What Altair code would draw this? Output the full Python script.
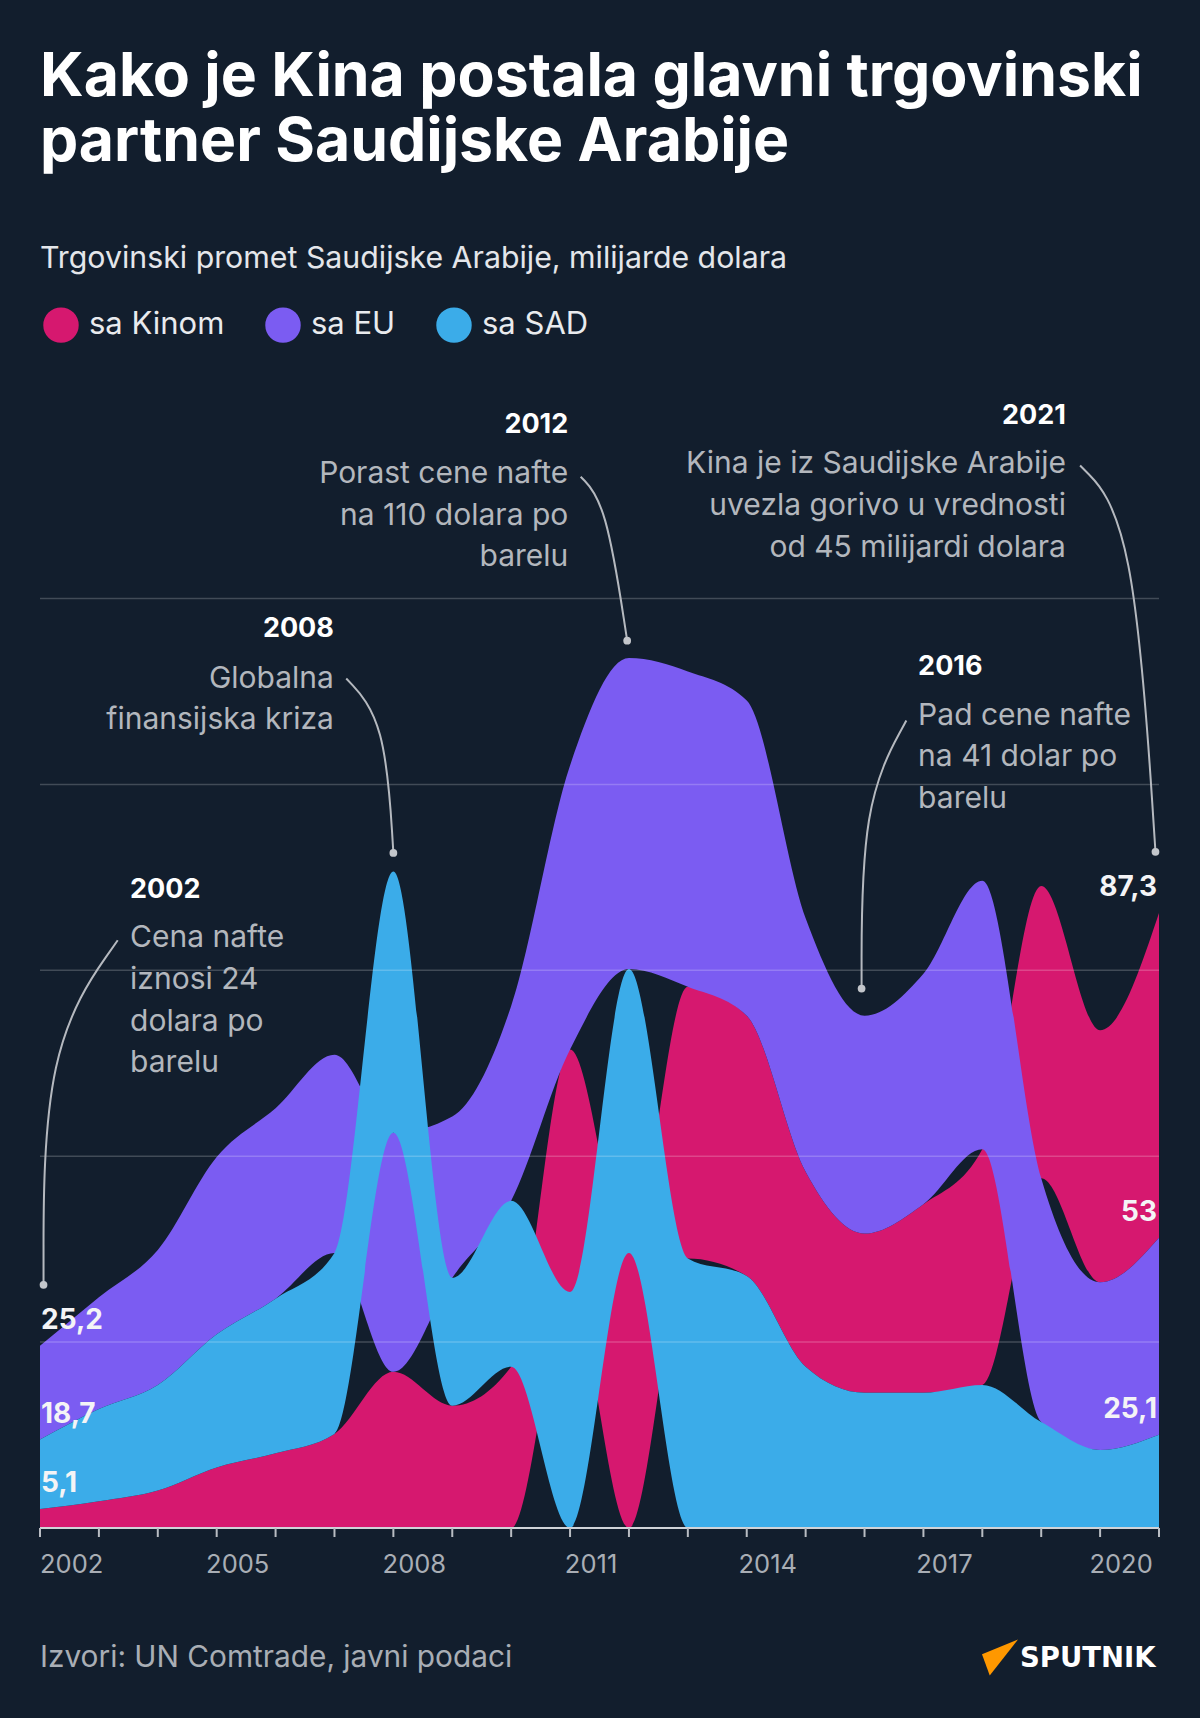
import altair as alt
import pandas as pd

# ---------------- data ----------------
years = list(range(2002, 2022))
china = [5.1, 7.2, 10.1, 16.3, 20.1, 25.3, 42.0, 32.9, 43.4, 65.2,
         74.0, 73.1, 70.0, 52.4, 42.8, 50.7, 63.4, 78.6, 67.8, 87.3]
eu = [25.2, 30.1, 36.3, 47.7, 51.2, 53.3, 64.3, 43.4, 52.4, 76.4,
      83.6, 84.8, 84.8, 68.2, 58.6, 62.0, 72.2, 65.6, 45.1, 53.0]
usa = [18.7, 24.8, 28.4, 35.8, 41.6, 48.7, 70.3, 34.4, 44.6, 63.5,
       76.4, 72.5, 67.8, 43.4, 36.4, 36.4, 38.5, 28.5, 21.0, 25.1]
series = ["sa Kinom", "sa EU", "sa SAD"]
colors = ["#d6186f", "#7b5cf2", "#3bace9"]
grid_values = [50, 100, 150, 200, 250]
axis_label_years = [2002, 2005, 2008, 2011, 2014, 2017, 2020]

title_lines = ["Kako je Kina postala glavni trgovinski", "partner Saudijske Arabije"]
subtitle = "Trgovinski promet Saudijske Arabije, milijarde dolara"
source = "Izvori: UN Comtrade, javni podaci"
brand = "SPUTNIK"

# annotations (anchored in data units: year, value)
ann_heads = ["2002", "2008", "2012", "2016", "2021"]
ann_bodies = ["Cena nafte\niznosi 24\ndolara po\nbarelu",
              "Globalna\nfinansijska kriza",
              "Porast cene nafte\nna 110 dolara po\nbarelu",
              "Pad cene nafte\nna 41 dolar po\nbarelu",
              "Kina je iz Saudijske Arabije\nuvezla gorivo u vrednosti\nod 45 milijardi dolara"]
ann_align = ["left", "right", "right", "left", "right"]
ann_x = [2003.53, 2006.99, 2010.97, 2016.91, 2019.42]
ann_head_v = [171.7, 241.8, 296.8, 231.6, 299.1]
ann_body_v = [156.2, 226.0, 281.1, 216.1, 283.7]
# leader lines: start, bend, dot
lead_x = [[2003.32, 2002.06, 2002.06],
          [2007.20, 2007.86, 2008.00],
          [2011.18, 2011.61, 2011.97],
          [2016.71, 2015.95, 2015.95],
          [2019.66, 2020.57, 2020.94]]
lead_v = [[158.1, 129.7, 65.4],
          [228.5, 217.4, 181.6],
          [282.8, 275.9, 238.7],
          [217.2, 195.1, 145.1],
          [285.8, 271.3, 181.9]]

# ---------------- tables ----------------
rows = []
for s, vals in zip(series, [china, eu, usa]):
    for y, v in zip(years, vals):
        rows.append({"year": y, "series": s, "value": v})
df = pd.DataFrame(rows)

ann_df = pd.DataFrame({"x": ann_x, "hv": ann_head_v, "bv": ann_body_v,
                       "head": ann_heads, "body": ann_bodies, "align": ann_align})
lead_rows = []
for i, (xs_, vs_) in enumerate(zip(lead_x, lead_v)):
    for j, (a, b) in enumerate(zip(xs_, vs_)):
        lead_rows.append({"id": i, "pt": j, "x": a, "v": b})
lead_df = pd.DataFrame(lead_rows)

FONT = "Inter"
W, H = 1119, 1145
xs = alt.Scale(domain=[2002, 2021], nice=False, zero=False)
ys = alt.Scale(domain=[0, 308], nice=False, zero=False)
color_scale = alt.Scale(domain=series, range=colors)

legend = alt.Legend(orient="none", legendX=3, legendY=-76, direction="horizontal",
                    title=None, symbolType="circle", symbolSize=1257,
                    symbolStrokeWidth=0, symbolOpacity=1, labelFont=FONT,
                    labelFontSize=31, labelColor="#e9ebee", labelOffset=10,
                    columnPadding=40, padding=0, labelLimit=400)

X = lambda f: alt.X(f, scale=xs, axis=None)
Y = lambda f: alt.Y(f, scale=ys, axis=None)

base = alt.Chart(df).transform_stack(
    stack="value", groupby=["year"], as_=["y0", "y1"],
    sort=[alt.SortField(field="value", order="ascending")])

layers = []
for s in series:
    layers.append(
        base.transform_filter(alt.datum.series == s)
        .mark_area(interpolate="monotone", opacity=1)
        .encode(x=X("year:Q"), y=Y("y1:Q"), y2="y0:Q",
                color=alt.Color("series:N", scale=color_scale, legend=legend)))

# gridlines
layers.append(
    alt.Chart(pd.DataFrame({"g": grid_values}))
    .mark_rule(color="#ffffff", opacity=0.2, strokeWidth=1.5)
    .encode(y=Y("g:Q")))

# x axis: baseline, ticks, labels
layers.append(
    alt.Chart(pd.DataFrame({"v": [0]}))
    .mark_rule(color="#d0d3d8", strokeWidth=2)
    .encode(y=Y("v:Q")))
layers.append(
    alt.Chart(pd.DataFrame({"year": years}))
    .mark_rule(color="#b9bdc3", strokeWidth=2)
    .encode(x=X("year:Q"), y=alt.value(H), y2=alt.value(H + 9)))
ax_lab = alt.Chart(pd.DataFrame({"year": axis_label_years}))
for cond, al, dx in [("datum.year === 2002", "left", 0), ("datum.year !== 2002", "center", 21)]:
    layers.append(
        ax_lab.transform_filter(cond)
        .mark_text(align=al, baseline="middle", dx=dx, font=FONT, fontSize=25.5,
                   color="#a9aeb5")
        .encode(x=X("year:Q"), y=alt.value(H + 37),
                text=alt.Text("year:Q", format="d")))

# value labels at the ends
lab = base.transform_calculate(label="replace(format(datum.value, '.1~f'), '.', ',')")
for yr, al, dx in [(2002, "left", 1), (2021, "right", -2)]:
    layers.append(
        lab.transform_filter(alt.datum.year == yr)
        .mark_text(align=al, baseline="middle", dx=dx, dy=-25, font=FONT,
                   fontWeight="bold", fontSize=28, color="#f4f4f6")
        .encode(x=X("year:Q"), y=Y("y1:Q"), text="label:N"))

# leader lines and dots
layers.append(
    alt.Chart(lead_df).mark_line(interpolate="basis", color="#b5b9bf", strokeWidth=2)
    .encode(x=X("x:Q"), y=Y("v:Q"), detail="id:N", order="pt:Q"))
layers.append(
    alt.Chart(lead_df).transform_filter(alt.datum.pt == 2)
    .mark_circle(size=60, color="#c3c6cb", opacity=1)
    .encode(x=X("x:Q"), y=Y("v:Q")))

# annotation texts
for al in ["left", "right"]:
    sub = alt.Chart(ann_df).transform_filter(alt.datum.align == al)
    layers.append(
        sub.mark_text(align=al, baseline="middle", font=FONT, fontWeight="bold",
                      fontSize=27, color="#ffffff")
        .encode(x=X("x:Q"), y=Y("hv:Q"), text="head:N"))
    layers.append(
        sub.mark_text(align=al, baseline="alphabetic", lineBreak="\n", lineHeight=41.6,
                      font=FONT, fontSize=30, color="#b3b7bd")
        .encode(x=X("x:Q"), y=Y("bv:Q"), text="body:N"))

# title, subtitle, source, brand
layers.append(
    alt.Chart(pd.DataFrame({"t": ["\n".join(title_lines)]}))
    .mark_text(align="left", baseline="alphabetic", lineBreak="\n", lineHeight=65,
               font=FONT, fontWeight="bold", fontSize=60.7, color="#ffffff")
    .encode(x=alt.value(0), y=alt.value(-286.6), text="t:N"))
layers.append(
    alt.Chart(pd.DataFrame({"t": [subtitle]}))
    .mark_text(align="left", baseline="middle", font=FONT, fontSize=30.3, color="#e4e6ea")
    .encode(x=alt.value(0), y=alt.value(-124.4), text="t:N"))
layers.append(
    alt.Chart(pd.DataFrame({"t": [source]}))
    .mark_text(align="left", baseline="middle", font=FONT, fontSize=29.8, color="#a9aeb5")
    .encode(x=alt.value(0), y=alt.value(1275), text="t:N"))
layers.append(
    alt.Chart(pd.DataFrame({"t": [brand]}))
    .mark_text(align="left", baseline="middle", font="DejaVu Sans", fontWeight="bold",
               fontSize=27.5, color="#ffffff")
    .encode(x=alt.value(980), y=alt.value(1276), text="t:N"))
layers.append(
    alt.Chart(pd.DataFrame({"t": [brand]}))
    .mark_point(shape="M1,-1L-1,-0.18L-0.57,1Z", filled=True, size=1296,
                fill="#ff9800", strokeWidth=0, opacity=1)
    .encode(x=alt.value(960), y=alt.value(1274.5)))

chart = alt.layer(*layers).properties(
    width=W, height=H,
    padding={"left": 40, "top": 383, "right": 41, "bottom": 190},
    autosize=alt.AutoSizeParams(type="none"),
    background="#121e2d",
).configure_view(strokeWidth=0)

chart.save("out.html", embed_options={"renderer": "svg", "actions": False})
